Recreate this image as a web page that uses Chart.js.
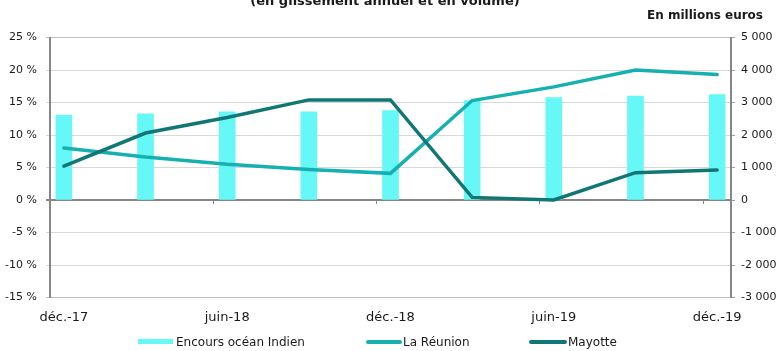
<!DOCTYPE html>
<html lang="fr">
<head>
<meta charset="utf-8">
<script src="https://cdn.jsdelivr.net/npm/chart.js@4"></script>
<style>
  body { margin: 0; background: #fff; font-family: 'DejaVu Sans', sans-serif; color: #1a1a1a; }
  #wrap { position: relative; width: 777px; height: 351px; overflow: hidden; }
  #titre { position: absolute; top: -7px; left: 0; width: 770px; text-align: center; font-weight: bold; font-size: 13px; line-height: 16px; }
  #unite { position: absolute; top: 7px; right: 14px; font-weight: bold; font-size: 12px; line-height: 16px; }
  .leg { position: absolute; font-size: 12px; line-height: 14px; top: 335px; }
  .sw { position: absolute; }
</style>
</head>
<body>
<div id="wrap">
  <canvas id="graph" width="777" height="351"></canvas>
  <div id="titre">(en glissement annuel et en volume)</div>
  <div id="unite">En millions euros</div>
  <div class="sw" style="left:138px;top:339px;width:35px;height:5px;background:#66F7F7"></div>
  <div class="leg" style="left:176px">Encours océan Indien</div>
  <div class="sw" style="left:366px;top:340px;width:36px;height:4px;border-radius:2px;background:#17B0B0"></div>
  <div class="leg" style="left:403px">La Réunion</div>
  <div class="sw" style="left:529px;top:340px;width:38px;height:4px;border-radius:2px;background:#117775"></div>
  <div class="leg" style="left:568px">Mayotte</div>
</div>
<script>
// Données (trimestrielles)
const categories = ['déc.-17', 'mars-18', 'juin-18', 'sept-18', 'déc.-18', 'mars-19', 'juin-19', 'sept-19', 'déc.-19'];
const encours = [2615, 2655, 2710, 2710, 2750, 3060, 3150, 3200, 3245];   // millions d'euros
const reunion = [8.0, 6.6, 5.5, 4.7, 4.1, 15.3, 17.4, 20.0, 19.3];       // %
const mayotte = [5.2, 10.3, 12.7, 15.4, 15.4, 0.4, 0.0, 4.2, 4.6];        // %
const xLabels = [0, 2, 4, 6, 8];
const pctTicks = [-15, -10, -5, 0, 5, 10, 15, 20, 25];
const eurTicks = [-3000, -2000, -1000, 0, 1000, 2000, 3000, 4000, 5000];

const police = "'DejaVu Sans', sans-serif";
const pts = arr => arr.map((v, i) => ({ x: i, y: v }));
const fmtMille = v => {
  const s = String(Math.abs(v));
  const t = s.length > 3 ? s.slice(0, -3) + ' ' + s.slice(-3) : s;
  return (v < 0 ? '-' : '') + t;
};
const gridCol = ctx => {
  const v = ctx.tick && ctx.tick.value;
  if (v === 0) return '#868686';
  if (v === 25 || v === -15) return '#C0C0C0';
  return '#D9D9D9';
};

const data = {
  datasets: [
    {
      type: 'line',
      label: 'La Réunion',
      data: pts(reunion),
      yAxisID: 'y',
      borderColor: '#17B0B0',
      borderWidth: 3.5,
      borderCapStyle: 'round',
      pointRadius: 0,
      tension: 0,
      order: 2
    },
    {
      type: 'line',
      label: 'Mayotte',
      data: pts(mayotte),
      yAxisID: 'y',
      borderColor: '#117775',
      borderWidth: 3.5,
      borderCapStyle: 'round',
      pointRadius: 0,
      tension: 0,
      order: 1
    },
    {
      type: 'bar',
      label: 'Encours océan Indien',
      data: pts(encours),
      yAxisID: 'y1',
      backgroundColor: '#66F7F7',
      barThickness: 16,
      order: 3
    }
  ]
};

const config = {
  type: 'line',
  data: data,
  options: {
    responsive: false,
    animation: false,
    layout: { padding: { top: 37.5, left: 0, right: 0, bottom: 0 } },
    plugins: {
      legend: { display: false },
      tooltip: { enabled: false }
    },
    scales: {
      x: {
        type: 'linear',
        position: 'bottom',
        min: -0.17,
        max: 8.17,
        offset: false,
        afterBuildTicks: s => { s.ticks = xLabels.map(v => ({ value: v })); },
        afterFit: s => { s.height = 53.5; },
        grid: { display: false, drawTicks: false, offset: false },
        border: { display: false },
        ticks: {
          padding: 12,
          maxRotation: 0,
          autoSkip: false,
          color: '#1a1a1a',
          font: { family: police, size: 13 },
          callback: v => categories[v]
        }
      },
      xt: {
        type: 'linear',
        position: { y: 0 },
        min: -0.17,
        max: 8.17,
        afterBuildTicks: s => { s.ticks = [1.83, 3.83, 5.83, 7.83].map(v => ({ value: v })); },
        grid: { drawOnChartArea: false, drawTicks: true, tickLength: 4, color: '#868686', lineWidth: 1 },
        border: { display: false },
        ticks: { display: false }
      },
      y: {
        position: 'left',
        min: -15,
        max: 25,
        afterBuildTicks: s => { s.ticks = pctTicks.map(v => ({ value: v })); },
        afterFit: s => { s.width = 50; },
        grid: {
          color: gridCol,
          lineWidth: ctx => (ctx.tick && ctx.tick.value === 0 ? 2 : 1),
          tickLength: 4
        },
        border: { display: true, color: '#868686', width: 2 },
        ticks: {
          padding: 9,
          color: '#1a1a1a',
          font: { family: police, size: 11 },
          callback: v => v + ' %'
        }
      },
      y1: {
        position: 'right',
        min: -3000,
        max: 5000,
        afterBuildTicks: s => { s.ticks = eurTicks.map(v => ({ value: v })); },
        afterFit: s => { s.width = 46; },
        grid: { drawOnChartArea: false, color: '#A0A0A0', tickLength: 4 },
        border: { display: true, color: '#868686', width: 2 },
        ticks: {
          padding: 6,
          color: '#1a1a1a',
          font: { family: police, size: 11 },
          callback: v => fmtMille(v)
        }
      }
    }
  }
};

const ctx = document.getElementById('graph').getContext('2d');
new Chart(ctx, config);
</script>
</body>
</html>
